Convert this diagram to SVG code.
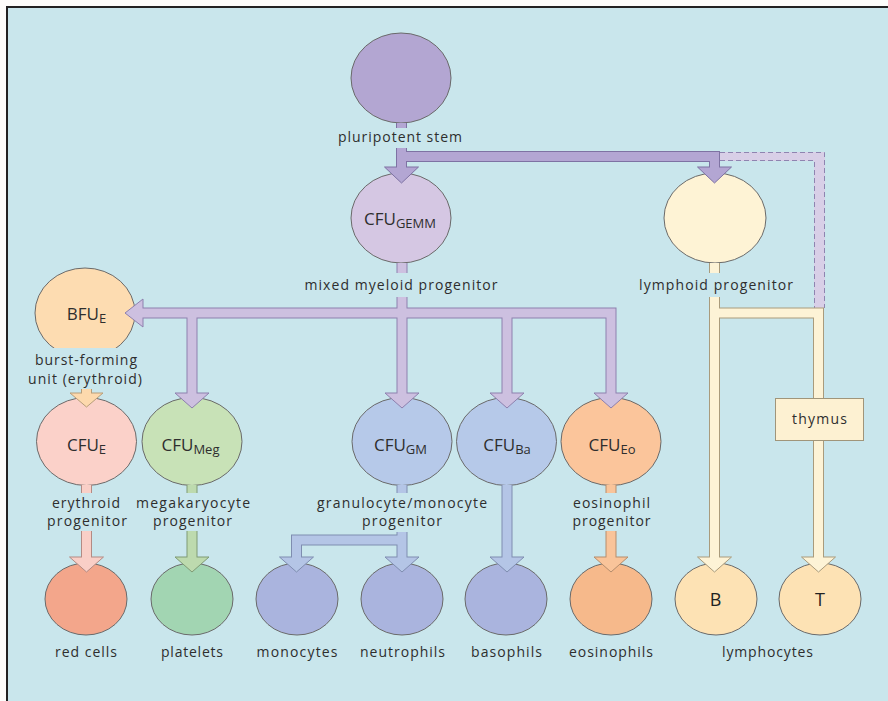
<svg xmlns="http://www.w3.org/2000/svg" width="888" height="701" viewBox="0 0 888 701">
<defs>
<style>
.lbl{font-family:"Open Sans","Liberation Sans",sans-serif;font-size:14px;fill:#2e2e2e;text-anchor:middle}
.cfu{font-family:"Open Sans","Liberation Sans",sans-serif;font-size:17px;fill:#2e2e2e;text-anchor:middle}
.sub{font-size:13px}
.big{font-family:"Open Sans","Liberation Sans",sans-serif;font-size:18px;fill:#222;text-anchor:middle}
.nd{stroke:#6a6a6a;stroke-width:1}
.o{fill:none;stroke-width:11;stroke-linejoin:miter}
.i{fill:none;stroke-width:9;stroke-linejoin:miter}
.h{stroke-width:1;stroke-linejoin:miter}
.pur-o{stroke:#7e72a3}.pur-i{stroke:#b3a6d3}.pur-h{fill:#b3a6d3;stroke:#7e72a3}
.lav-o{stroke:#8d80ae}.lav-i{stroke:#cdc0e0}.lav-h{fill:#cdc0e0;stroke:#8d80ae}
.pea-o{stroke:#b79e7a}.pea-i{stroke:#fdd9ad}.pea-h{fill:#fdd9ad;stroke:#b79e7a}
.pnk-o{stroke:#b38b84}.pnk-i{stroke:#f9cfc7}.pnk-h{fill:#f9cfc7;stroke:#b38b84}
.grn-o{stroke:#7f9a74}.grn-i{stroke:#bddaae}.grn-h{fill:#bddaae;stroke:#7f9a74}
.blu-o{stroke:#7f8db0}.blu-i{stroke:#b4c5e6}.blu-h{fill:#b4c5e6;stroke:#7f8db0}
.org-o{stroke:#b58d6c}.org-i{stroke:#f9c49a}.org-h{fill:#f9c49a;stroke:#b58d6c}
.crm-o{stroke:#a99b7c}.crm-i{stroke:#fdf3d6}.crm-h{fill:#fdf3d6;stroke:#a99b7c}
</style>
<clipPath id="bfuclip"><rect x="0" y="260" width="200" height="88"/></clipPath>
</defs>
<rect x="0" y="0" width="888" height="701" fill="#fdfdfb"/>
<rect x="7" y="7" width="881" height="694" fill="#c9e6ec"/>
<line x1="6" y1="7" x2="888" y2="7" stroke="#222" stroke-width="2"/>
<line x1="7" y1="6" x2="7" y2="701" stroke="#222" stroke-width="2"/>

<g id="pluripotent">
<ellipse class="nd" cx="401" cy="78" rx="50" ry="45" fill="#b3a6d2"/>
<text class="lbl" x="400" y="142" textLength="124" lengthAdjust="spacing">pluripotent stem</text>
</g>
<g id="cfu-gemm">
<ellipse class="nd" cx="401" cy="218" rx="50" ry="45" fill="#d5c7e3"/>
<text class="cfu" x="400" y="225">CFU<tspan class="sub" dy="3">GEMM</tspan></text>
<text class="lbl" x="401" y="290" textLength="193" lengthAdjust="spacing">mixed myeloid progenitor</text>
</g>
<g id="lymphoid">
<ellipse class="nd" cx="715" cy="218" rx="51" ry="45" fill="#fef3d5"/>
<text class="lbl" x="716" y="290" textLength="154" lengthAdjust="spacing">lymphoid progenitor</text>
</g>
<g id="bfu-e">
<ellipse class="nd" cx="85" cy="313" rx="50" ry="45" fill="#fddcb1" clip-path="url(#bfuclip)"/>
<text class="cfu" x="86.5" y="320">BFU<tspan class="sub" dy="3">E</tspan></text>
<text class="lbl" x="86" y="365" textLength="102" lengthAdjust="spacing">burst-forming</text>
<text class="lbl" x="85" y="384" textLength="114" lengthAdjust="spacing">unit (erythroid)</text>
</g>
<g id="cfu-e">
<ellipse class="nd" cx="86.5" cy="441.5" rx="50" ry="44" fill="#fbd1c9"/>
<text class="cfu" x="86.5" y="451">CFU<tspan class="sub" dy="3">E</tspan></text>
<text class="lbl" x="86" y="508" textLength="68" lengthAdjust="spacing">erythroid</text>
<text class="lbl" x="87" y="526" textLength="80" lengthAdjust="spacing">progenitor</text>
</g>
<g id="cfu-meg">
<ellipse class="nd" cx="192" cy="441.5" rx="50" ry="44" fill="#c8e2b7"/>
<text class="cfu" x="190.5" y="451">CFU<tspan class="sub" dy="3">Meg</tspan></text>
<text class="lbl" x="193" y="508" textLength="114" lengthAdjust="spacing">megakaryocyte</text>
<text class="lbl" x="192.5" y="526" textLength="79" lengthAdjust="spacing">progenitor</text>
</g>
<g id="cfu-gm">
<ellipse class="nd" cx="402" cy="441.5" rx="50" ry="44" fill="#b6c9e9"/>
<text class="cfu" x="400.5" y="451">CFU<tspan class="sub" dy="3">GM</tspan></text>
<text class="lbl" x="402" y="508" textLength="170" lengthAdjust="spacing">granulocyte/monocyte</text>
<text class="lbl" x="402" y="526" textLength="80" lengthAdjust="spacing">progenitor</text>
</g>
<g id="cfu-ba">
<ellipse class="nd" cx="506.5" cy="441.5" rx="50" ry="44" fill="#b6c9e9"/>
<text class="cfu" x="507" y="451">CFU<tspan class="sub" dy="3">Ba</tspan></text>
</g>
<g id="cfu-eo">
<ellipse class="nd" cx="611" cy="441.5" rx="50" ry="44" fill="#fbc59b"/>
<text class="cfu" x="612" y="451">CFU<tspan class="sub" dy="3">Eo</tspan></text>
<text class="lbl" x="611.5" y="508" textLength="77" lengthAdjust="spacing">eosinophil</text>
<text class="lbl" x="611.5" y="526" textLength="78" lengthAdjust="spacing">progenitor</text>
</g>
<g id="red-cells">
<ellipse class="nd" cx="86" cy="599" rx="41" ry="36" fill="#f3a68b"/>
<text class="lbl" x="86" y="657" textLength="62" lengthAdjust="spacing">red cells</text>
</g>
<g id="platelets">
<ellipse class="nd" cx="192" cy="599" rx="41" ry="36" fill="#a2d5b2"/>
<text class="lbl" x="192" y="657" textLength="62" lengthAdjust="spacing">platelets</text>
</g>
<g id="monocytes">
<ellipse class="nd" cx="297" cy="599" rx="41" ry="36" fill="#aab4de"/>
<text class="lbl" x="297" y="657" textLength="81" lengthAdjust="spacing">monocytes</text>
</g>
<g id="neutrophils">
<ellipse class="nd" cx="402" cy="599" rx="41" ry="36" fill="#aab4de"/>
<text class="lbl" x="402.5" y="657" textLength="85" lengthAdjust="spacing">neutrophils</text>
</g>
<g id="basophils">
<ellipse class="nd" cx="506" cy="599" rx="41" ry="36" fill="#aab4de"/>
<text class="lbl" x="506.5" y="657" textLength="71" lengthAdjust="spacing">basophils</text>
</g>
<g id="eosinophils">
<ellipse class="nd" cx="611" cy="599" rx="41" ry="36" fill="#f6b98b"/>
<text class="lbl" x="611" y="657" textLength="84" lengthAdjust="spacing">eosinophils</text>
</g>
<g id="b-cell">
<ellipse class="nd" cx="716" cy="599" rx="41" ry="36" fill="#fde2b4"/>
<text class="big" x="715.5" y="606">B</text>
</g>
<g id="t-cell">
<ellipse class="nd" cx="820" cy="599" rx="41" ry="36" fill="#fde2b4"/>
<text class="big" x="820" y="606">T</text>
</g>
<text class="lbl" x="767.5" y="657" textLength="91" lengthAdjust="spacing">lymphocytes</text>

<g id="connectors">
<polygon points="720,152 825,152 825,308 814,308 814,161 720,161" fill="#d8cfe7"/>
<path d="M720,152.5 H824.5 V308 M720,160.5 H814.5 V308" fill="none" stroke="#8f84b0" stroke-width="1" stroke-dasharray="5,3"/>
<path class="o pur-o" d="M401.5,123 V128 M401.5,148 V167 M401.5,156.5 H714.5 V167"/>
<polygon class="h pur-h" points="384.5,167 418.5,167 401.5,183"/>
<polygon class="h pur-h" points="697.5,167 731.5,167 714.5,183"/>
<path class="i pur-i" d="M401.5,123 V128 M401.5,148 V168 M401.5,156.5 H714.5 V168"/>
<path class="o lav-o" d="M402,263 V273 M402,297 V393 M143,313 H611 V393 M192,313 V393 M507,313 V393"/>
<polygon class="h lav-h" points="143,299 143,327 125,313"/>
<polygon class="h lav-h" points="175,393 209,393 192,408"/>
<polygon class="h lav-h" points="385,393 419,393 402,408"/>
<polygon class="h lav-h" points="490,393 524,393 507,408"/>
<polygon class="h lav-h" points="594,393 628,393 611,408"/>
<path class="i lav-i" d="M402,263 V273 M402,297 V394 M142,313 H611 V394 M192,313 V394 M507,313 V394"/>
<path class="o pea-o" d="M86.5,389 V393"/>
<polygon class="h pea-h" points="70,393 103,393 86.5,407"/>
<path class="i pea-i" d="M86.5,389 V394"/>
<path class="o pnk-o" d="M86.5,485 V493 M86.5,531 V557"/>
<polygon class="h pnk-h" points="69.5,557 103.5,557 86.5,572"/>
<path class="i pnk-i" d="M86.5,485 V493 M86.5,531 V558"/>
<path class="o grn-o" d="M192,485 V493 M192,531 V557"/>
<polygon class="h grn-h" points="175,557 209,557 192,572"/>
<path class="i grn-i" d="M192,485 V493 M192,531 V558"/>
<path class="o blu-o" d="M402,485 V493 M402,532 V557 M402,540 H296.5 V557"/>
<polygon class="h blu-h" points="385,557 419,557 402,572"/>
<polygon class="h blu-h" points="279.5,557 313.5,557 296.5,572"/>
<path class="i blu-i" d="M402,485 V493 M402,532 V558 M402,540 H296.5 V558"/>
<path class="o blu-o" d="M507,485 V557"/>
<polygon class="h blu-h" points="490,557 524,557 507,572"/>
<path class="i blu-i" d="M507,485 V558"/>
<path class="o org-o" d="M611,485 V493 M611,531 V557"/>
<polygon class="h org-h" points="594,557 628,557 611,572"/>
<path class="i org-i" d="M611,485 V493 M611,531 V558"/>
<path class="o crm-o" d="M714.5,263 V273 M714.5,297 V557 M714.5,313 H818.5 V398 M818.5,440 V557"/>
<polygon class="h crm-h" points="697.5,557 731.5,557 714.5,572"/>
<polygon class="h crm-h" points="801.5,557 835.5,557 818.5,572"/>
<path class="i crm-i" d="M714.5,263 V273 M714.5,297 V558 M714.5,313 H818.5 V398 M818.5,440 V558"/>
</g>

<g id="thymus">
<rect x="775.5" y="398.5" width="88" height="42" fill="#fdf1d2" stroke="#a0957a" stroke-width="1"/>
<text class="lbl" x="819.5" y="424" textLength="55" lengthAdjust="spacing">thymus</text>
</g>
</svg>
